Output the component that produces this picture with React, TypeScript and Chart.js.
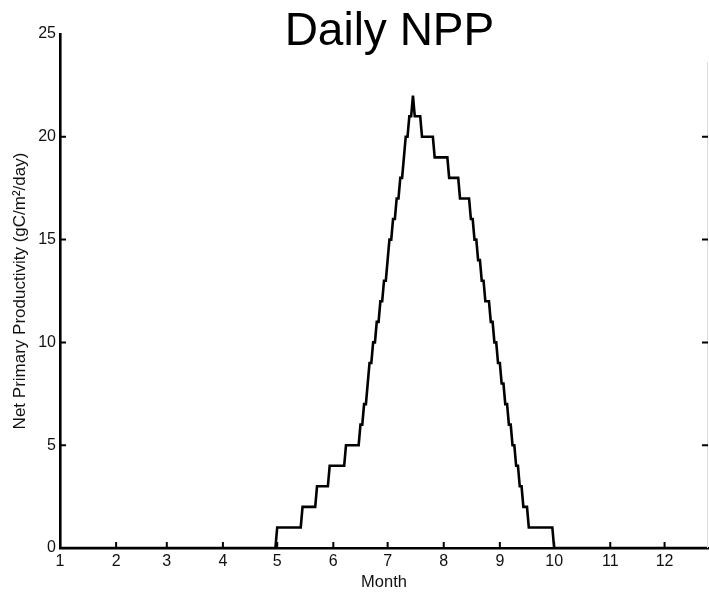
import React, { useEffect, useRef } from 'react';
import { Chart, registerables } from 'chart.js';

Chart.register(...registerables);

// Day-of-year where each month starts (x ticks), labelled 1..12
const MONTH_START_DAYS = [1, 32, 60, 91, 121, 152, 182, 213, 244, 274, 305, 335];
const MONTH_LABELS = ['1', '2', '3', '4', '5', '6', '7', '8', '9', '10', '11', '12'];
const X_MIN = 1;
const X_MAX = 359;

// Y axis
const Y_TICKS = [0, 5, 10, 15, 20, 25];

// Daily NPP (integer-rounded daily values): day on which a value begins, and the value
const STEP_DAYS = [
  1, 121, 135, 143, 150, 159, 167, 169, 171, 172, 174, 176, 178, 180, 182, 183,
  185, 187, 189, 191, 192, 194, 196, 197, 201, 208, 216, 222, 228, 230, 232, 234,
  236, 239, 241, 243, 245, 247, 249, 251, 253, 255, 257, 260, 274, 359,
];
const NPP_VALUES = [
  0, 1, 2, 3, 4, 5, 6, 7, 8, 9, 10, 11, 12, 13, 14, 15,
  16, 17, 18, 19, 20, 21, 22, 21, 20, 19, 18, 17, 16, 15, 14, 13,
  12, 11, 10, 9, 8, 7, 6, 5, 4, 3, 2, 1, 0, 0,
];

const TITLE = 'Daily NPP';
const X_TITLE = 'Month';
const Y_TITLE = 'Net Primary Productivity (gC/m\u00B2/day)';

const FONT = '"Liberation Sans", Arial, Helvetica, sans-serif';

// Daily samples: each value holds until the day before the next change
function dailyPoints() {
  const pts: { x: number; y: number }[] = [];
  STEP_DAYS.forEach((d, i) => {
    if (i > 0) {
      const prevDay = STEP_DAYS[i - 1];
      if (d - 1 > prevDay) pts.push({ x: d - 1, y: NPP_VALUES[i - 1] });
    }
    pts.push({ x: d, y: NPP_VALUES[i] });
  });
  return pts;
}

const matlabPlugin = {
  id: 'matlabDecor',
  afterDraw(chart: any) {
    const { ctx, chartArea, scales } = chart;
    const xs = scales.x;
    const ys = scales.y;
    ctx.save();
    // faint right axis
    ctx.strokeStyle = '#dcdcdc';
    ctx.lineWidth = 1;
    ctx.beginPath();
    ctx.moveTo(chartArea.right - 0.5, chartArea.top + 28);
    ctx.lineTo(chartArea.right - 0.5, chartArea.bottom);
    ctx.stroke();
    // inward ticks
    ctx.strokeStyle = '#000';
    ctx.lineWidth = 2;
    const tl = 6;
    Y_TICKS.forEach((v) => {
      if (v === 0 || v === 25) return;
      const y = ys.getPixelForValue(v);
      ctx.beginPath();
      ctx.moveTo(chartArea.left, y);
      ctx.lineTo(chartArea.left + tl, y);
      ctx.moveTo(chartArea.right, y);
      ctx.lineTo(chartArea.right - tl, y);
      ctx.stroke();
    });
    MONTH_START_DAYS.forEach((d, i) => {
      if (i === 0) return;
      const x = xs.getPixelForValue(d);
      ctx.beginPath();
      ctx.moveTo(x, chartArea.bottom);
      ctx.lineTo(x, chartArea.bottom - tl);
      ctx.stroke();
    });
    // title, centred over the whole year
    ctx.fillStyle = '#000';
    ctx.font = `46px ${FONT}`;
    ctx.textAlign = 'center';
    ctx.textBaseline = 'alphabetic';
    ctx.fillText(TITLE, xs.getPixelForValue(183), 45);
    ctx.restore();
  },
};

export default function App() {
  const ref = useRef<HTMLCanvasElement>(null);
  useEffect(() => {
    if (!ref.current) return;
    const chart = new Chart(ref.current, {
      type: 'line',
      data: {
        datasets: [
          {
            data: dailyPoints(),
            borderColor: '#000',
            borderWidth: 2.6,
            pointRadius: 0,
            tension: 0,
            fill: false,
          },
        ],
      },
      options: {
        responsive: false,
        animation: false,
        events: [],
        layout: { padding: { left: 0, right: 1, top: 34, bottom: 0 } },
        plugins: {
          legend: { display: false },
          title: { display: false },
          tooltip: { enabled: false },
        },
        scales: {
          x: {
            type: 'linear',
            min: X_MIN,
            max: X_MAX,
            grid: { display: false, drawTicks: false },
            border: { display: true, color: '#000', width: 2.6 },
            afterBuildTicks: (s: any) => {
              s.ticks = MONTH_START_DAYS.map((v) => ({ value: v }));
            },
            ticks: {
              autoSkip: false,
              maxRotation: 0,
              padding: 4,
              color: '#111',
              font: { family: FONT, size: 16 },
              callback: (_v: any, i: number) => MONTH_LABELS[i],
            },
            title: {
              display: true,
              text: X_TITLE,
              color: '#111',
              font: { family: FONT, size: 16.5 },
              padding: { top: 0, bottom: 1 },
            },
            afterFit: (s: any) => {
              s.height = 45;
            },
          },
          y: {
            min: 0,
            max: 25,
            grid: { display: false, drawTicks: false },
            border: { display: true, color: '#000', width: 2.6 },
            afterBuildTicks: (s: any) => {
              s.ticks = Y_TICKS.map((v) => ({ value: v }));
            },
            ticks: {
              padding: 4,
              color: '#111',
              font: { family: FONT, size: 16 },
            },
            title: {
              display: true,
              text: Y_TITLE,
              color: '#111',
              font: { family: FONT, size: 17 },
              padding: { top: 10, bottom: 0 },
            },
            afterFit: (s: any) => {
              s.width = 60;
            },
          },
        },
      },
      plugins: [matlabPlugin],
    });
    return () => chart.destroy();
  }, []);
  return (
    <div style={{ position: 'fixed', left: 0, top: 0, width: 709, height: 593, background: '#fff' }}>
      <canvas ref={ref} width={709} height={593} style={{ display: 'block' }} />
    </div>
  );
}
